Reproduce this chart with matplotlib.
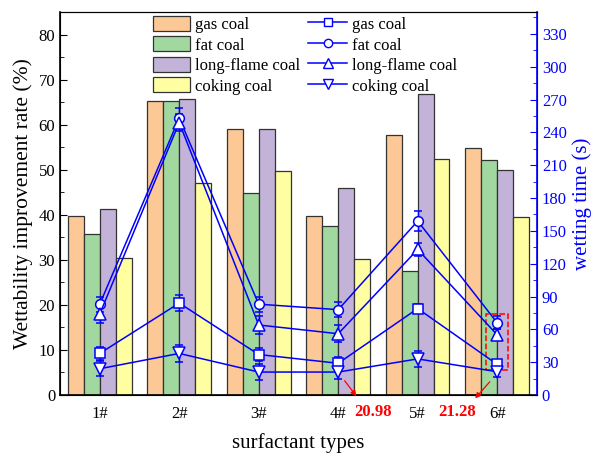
import matplotlib.pyplot as plt
import numpy as np
from matplotlib.lines import Line2D
from matplotlib.patches import Rectangle

plt.rcParams['font.family'] = ['Liberation Serif', 'DejaVu Serif']

# categories
samples = ['1#', '2#', '3#', '4#', '5#', '6#']
coals = ['gas coal', 'fat coal', 'long-flame coal', 'coking coal']

# wettability improvement rate (%) - bars
rate_gas = [39.8, 65.2, 59.1, 39.8, 57.6, 54.8]
rate_fat = [35.8, 65.2, 44.8, 37.5, 27.5, 52.1]
rate_long = [41.2, 65.7, 59.1, 45.9, 66.7, 49.9]
rate_coking = [30.5, 47.0, 49.8, 30.2, 52.3, 39.5]

# wetting time (s) - lines
time_gas = [38, 84, 37, 29, 79, 28]
time_fat = [83, 253, 83, 78, 159, 66]
time_long = [74, 249, 64, 56, 133, 55]
time_coking = [24, 38, 21, 20.98, 33, 21.28]

err_gas = [6, 7, 6, 6, 4, 4]
err_fat = [7, 9, 7, 7, 9, 6]
err_long = [8, 8, 8, 8, 6, 5]
err_coking = [7, 8, 7, 6, 7, 5]

bar_colors = ['#FCC896', '#A0D8A0', '#C3B3D8', '#FFFFA2']
markers = ['s', 'o', '^', 'v']
msizes = [7, 7, 8, 8]

fig = plt.figure(figsize=(5.91, 4.53), dpi=100)
ax = fig.add_axes([0.1015, 0.128, 0.807, 0.8455])
x = np.arange(1, 7)
w = 0.2
rates = [rate_gas, rate_fat, rate_long, rate_coking]
bar_handles = []
for i, (vals, c) in enumerate(zip(rates, bar_colors)):
    b = ax.bar(x + (i - 1.5) * w, vals, w, color=c, edgecolor='#333333', linewidth=0.9, label=coals[i])
    bar_handles.append(b)

ax.set_xlim(0.5, 6.5)
ax.set_ylim(0, 85)
ax.set_xticks(x)
ax.set_xticklabels(samples)
ax.set_yticks(np.arange(0, 81, 10))
ax.set_yticks(np.arange(0, 86, 5), minor=True)
ax.tick_params(axis='y', which='both', direction='in', labelsize=12)
ax.tick_params(axis='y', which='major', length=5)
ax.tick_params(axis='y', which='minor', length=3)
ax.tick_params(axis='x', length=0, labelsize=12, pad=8)
ax.set_ylabel('Wettability improvement rate (%)', fontsize=15.5)
ax.set_xlabel('surfactant types', fontsize=15, labelpad=8)
ax.spines['left'].set_linewidth(1.2)
ax.spines['bottom'].set_linewidth(1.2)

ax2 = ax.twinx()
ax2.set_ylim(0, 350)
ax2.set_yticks(np.arange(0, 331, 30))
ax2.set_yticks(np.arange(0, 346, 15), minor=True)
ax2.tick_params(axis='y', which='both', direction='in', colors='blue', labelsize=12)
ax2.tick_params(axis='y', which='major', length=5)
ax2.tick_params(axis='y', which='minor', length=3)
ax2.spines['right'].set_color('blue')
ax2.spines['right'].set_linewidth(1.2)
ax2.set_ylabel('wetting time (s)', fontsize=15, color='blue')

times = [time_gas, time_fat, time_long, time_coking]
errs = [err_gas, err_fat, err_long, err_coking]
line_handles = []
for t, e, m, s, name in zip(times, errs, markers, msizes, coals):
    ax2.errorbar(x, t, yerr=e, color='blue', lw=1.1, marker=m, ms=s, mfc='white',
                 mec='blue', mew=1.1, capsize=3, elinewidth=1.0)
    line_handles.append(Line2D([], [], color='blue', lw=1.1, marker=m, ms=s - 1, mfc='white',
                               mec='blue', mew=1.0, label=name))

# highlight box and annotations
ax2.add_patch(Rectangle((5.86, 23), 0.28, 51, fill=False, edgecolor='red', ls='--', lw=1.1))
ax2.annotate('', xy=(4.25, -3), xytext=(4.06, 15), xycoords='data',
             arrowprops=dict(arrowstyle='-|>', color='red', lw=0.9, mutation_scale=8),
             annotation_clip=False)
ax2.annotate('', xy=(5.7, -5), xytext=(5.93, 14), xycoords='data',
             arrowprops=dict(arrowstyle='-|>', color='red', lw=0.9, mutation_scale=8),
             annotation_clip=False)
ax2.text(4.44, -15.5, f'{time_coking[3]:.2f}', color='red', fontsize=12, fontweight='bold',
         ha='center', va='center', clip_on=False)
ax2.text(5.5, -15.5, f'{time_coking[5]:.2f}', color='red', fontsize=12, fontweight='bold',
         ha='center', va='center', clip_on=False)

leg_kw = dict(loc='upper left', frameon=False, fontsize=12, handleheight=1.0,
              labelspacing=0.2, borderpad=0, borderaxespad=0, handletextpad=0.3)
ax.legend(handles=bar_handles, bbox_to_anchor=(0.195, 0.99), handlelength=2.2, **leg_kw)
ax2.legend(handles=line_handles, bbox_to_anchor=(0.52, 0.99), handlelength=2.35, **leg_kw)

fig.savefig('out.png', dpi=100)
